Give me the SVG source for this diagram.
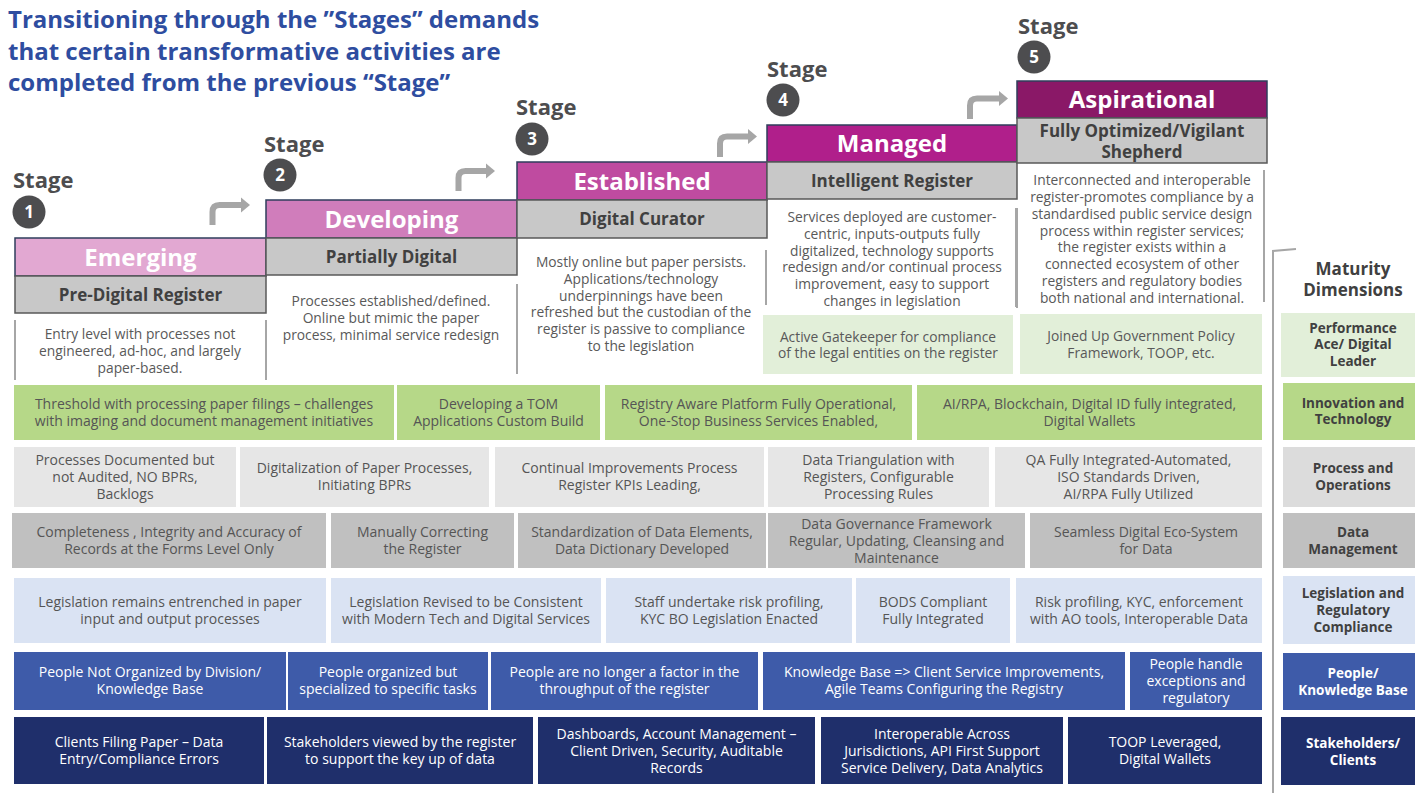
<svg xmlns="http://www.w3.org/2000/svg" width="1415" height="793" viewBox="0 0 1415 793">
<style>
text{font-family:'Open Sans','Noto Sans','DejaVu Sans',sans-serif}
.title{font-size:24px;font-weight:700;fill:#2E4DA0}
.stage{font-size:22px;font-weight:700;fill:#4D4D4F}
.num{font-size:17px;font-weight:700;fill:#fff;text-anchor:middle}
.hd{font-size:24px;font-weight:700;fill:#fff;text-anchor:middle}
.sub{font-size:17px;font-weight:700;fill:#404040;text-anchor:middle}
.desc{font-size:13.8px;fill:#595959;text-anchor:middle}
.cell{font-size:14px;fill:#555;text-anchor:middle}
.w{fill:#fff}
.lab{font-size:13.5px;font-weight:700;fill:#404040;text-anchor:middle}
.labw{font-size:13.5px;font-weight:700;fill:#fff;text-anchor:middle}
.circ{fill:#4D4D4F}
.hbox{stroke:#2F3E5C;stroke-width:1.5}
.gbox{fill:#C8C8C8;stroke:#595959;stroke-width:1.5}
.vl{stroke:#A6A6A6;stroke-width:2;fill:none}
.arr{stroke:#A6A6A6;stroke-width:6;fill:none}
.arrh{fill:#A6A6A6}
.g1{fill:#B6D888}.g0{fill:#E2EFD9}.p{fill:#E6E6E6}.pr{fill:#DCDCDC}.d{fill:#C0C0C0}.l{fill:#DAE3F3}.pe{fill:#3E5BA9}.s{fill:#1F2F6B}
</style>

<g id="title">
<text class="title" x="8" y="28">Transitioning through the ”Stages” demands</text>
<text class="title" x="8" y="60">that certain transformative activities are</text>
<text class="title" x="8" y="91">completed from the previous “Stage”</text>
</g>

<g id="stage1">
<text class="stage" x="13" y="188">Stage</text>
<circle class="circ" cx="29" cy="212" r="16.5"/><text class="num" x="29" y="218">1</text>
<rect class="hbox" x="15" y="238" width="251" height="38" fill="#E2A8D2"/>
<text class="hd" x="140.5" y="265.5">Emerging</text>
<rect class="gbox" x="15" y="276" width="251" height="37"/>
<text class="sub" x="140.5" y="300.5">Pre-Digital Register</text>
<text class="desc"><tspan x="140" y="338.5">Entry level with processes not</tspan><tspan x="140" y="355.5">engineered, ad-hoc, and largely</tspan><tspan x="140" y="372.5">paper-based.</tspan></text>
</g>

<g id="stage2">
<text class="stage" x="264" y="152">Stage</text>
<circle class="circ" cx="280" cy="175" r="16.5"/><text class="num" x="280" y="181">2</text>
<rect class="hbox" x="266" y="200" width="251" height="38" fill="#D07DBB"/>
<text class="hd" x="391.5" y="227.5">Developing</text>
<rect class="gbox" x="266" y="238" width="251" height="37"/>
<text class="sub" x="391.5" y="262.5">Partially Digital</text>
<text class="desc"><tspan x="391" y="305.5">Processes established/defined.</tspan><tspan x="391" y="322.5">Online but mimic the paper</tspan><tspan x="391" y="339.5">process, minimal service redesign</tspan></text>
</g>

<g id="stage3">
<text class="stage" x="516" y="115">Stage</text>
<circle class="circ" cx="532" cy="139" r="16.5"/><text class="num" x="532" y="145">3</text>
<rect class="hbox" x="517" y="162" width="250" height="38" fill="#BF4BA0"/>
<text class="hd" x="642" y="189.5">Established</text>
<rect class="gbox" x="517" y="200" width="250" height="38"/>
<text class="sub" x="642" y="225">Digital Curator</text>
<text class="desc"><tspan x="641" y="266.5">Mostly online but paper persists.</tspan><tspan x="641" y="283.5">Applications/technology</tspan><tspan x="641" y="300.5">underpinnings have been</tspan><tspan x="641" y="317">refreshed but the custodian of the</tspan><tspan x="641" y="333.5">register is passive to compliance</tspan><tspan x="641" y="350.5">to the legislation</tspan></text>
</g>

<g id="stage4">
<text class="stage" x="767" y="77">Stage</text>
<circle class="circ" cx="783" cy="100" r="16.5"/><text class="num" x="783" y="106">4</text>
<rect class="hbox" x="767" y="125" width="250" height="37" fill="#B01F8B"/>
<text class="hd" x="892" y="152">Managed</text>
<rect class="gbox" x="767" y="162" width="250" height="37"/>
<text class="sub" x="892" y="186.5">Intelligent Register</text>
<text class="desc"><tspan x="892" y="221.5">Services deployed are customer-</tspan><tspan x="892" y="238.5">centric, inputs-outputs fully</tspan><tspan x="892" y="255.5">digitalized, technology supports</tspan><tspan x="892" y="271.5">redesign and/or continual process</tspan><tspan x="892" y="288.5">improvement, easy to support</tspan><tspan x="892" y="305.5">changes in legislation</tspan></text>
<rect class="g0" x="763" y="315" width="250" height="59"/>
<text class="desc"><tspan x="888" y="341.5">Active Gatekeeper for compliance</tspan><tspan x="888" y="357.5">of the legal entities on the register</tspan></text>
</g>

<g id="stage5">
<text class="stage" x="1018" y="34">Stage</text>
<circle class="circ" cx="1034" cy="57" r="16.5"/><text class="num" x="1034" y="63">5</text>
<rect class="hbox" x="1017" y="81" width="250" height="37" fill="#8A1867"/>
<text class="hd" x="1142" y="108">Aspirational</text>
<rect class="gbox" x="1017" y="118" width="250" height="45"/>
<text class="sub"><tspan x="1142" y="136.5">Fully Optimized/Vigilant</tspan><tspan x="1142" y="157.5">Shepherd</tspan></text>
<text class="desc"><tspan x="1142" y="184.5">Interconnected and interoperable</tspan><tspan x="1142" y="201.5">register-promotes compliance by a</tspan><tspan x="1142" y="218.5">standardised public service design</tspan><tspan x="1142" y="235.5">process within register services;</tspan><tspan x="1142" y="251.5">the register exists within a</tspan><tspan x="1142" y="268.5">connected ecosystem of other</tspan><tspan x="1142" y="285.5">registers and regulatory bodies</tspan><tspan x="1142" y="302.5">both national and international.</tspan></text>
<rect class="g0" x="1020" y="314" width="242" height="60"/>
<text class="desc"><tspan x="1141" y="340.5">Joined Up Government Policy</tspan><tspan x="1141" y="357.5">Framework, TOOP, etc.</tspan></text>
</g>

<g id="connectors">
<path class="vl" d="M15 320V380M266 320V380M517 284V374M766 250V305M1017 208V308M1016 208V307M1264 170V302"/>
<path class="vl" d="M1296 249L1273 251V793"/>
<path class="arr" d="M212.5 225V212Q212.5 205 219.5 205H243"/><polygon class="arrh" points="241,197.5 250,205 241,212.5"/>
<path class="arr" d="M458.5 191V178Q458.5 171 465.5 171H488"/><polygon class="arrh" points="486,163.5 495,171 486,178.5"/>
<path class="arr" d="M720 157V143.5Q720 136.5 727 136.5H750"/><polygon class="arrh" points="748,129 757,136.5 748,144"/>
<path class="arr" d="M970 119V105.5Q970 98.5 977 98.5H1001"/><polygon class="arrh" points="999,91 1008,98.5 999,106"/>
</g>

<g id="maturity">
<text class="lab" style="font-size:17px"><tspan x="1353" y="275">Maturity</tspan><tspan x="1353" y="296">Dimensions</tspan></text>
<rect class="g0" x="1281" y="313" width="140" height="64"/>
<text class="lab"><tspan x="1353" y="333">Performance</tspan><tspan x="1353" y="349">Ace/ Digital</tspan><tspan x="1353" y="366">Leader</tspan></text>
<rect class="g1" x="1283" y="383" width="140" height="57"/>
<text class="lab"><tspan x="1353" y="408">Innovation and</tspan><tspan x="1353" y="424">Technology</tspan></text>
<rect class="pr" x="1283" y="447" width="140" height="60"/>
<text class="lab"><tspan x="1353" y="473">Process and</tspan><tspan x="1353" y="490">Operations</tspan></text>
<rect class="d" x="1283" y="513" width="140" height="55"/>
<text class="lab"><tspan x="1353" y="537">Data</tspan><tspan x="1353" y="554">Management</tspan></text>
<rect class="l" x="1283" y="576" width="140" height="68"/>
<text class="lab"><tspan x="1353" y="598">Legislation and</tspan><tspan x="1353" y="615">Regulatory</tspan><tspan x="1353" y="632">Compliance</tspan></text>
<rect class="pe" x="1283" y="653" width="140" height="57"/>
<text class="labw"><tspan x="1353" y="678">People/</tspan><tspan x="1353" y="695">Knowledge Base</tspan></text>
<rect class="s" x="1281" y="717" width="140" height="68"/>
<text class="labw"><tspan x="1353" y="748">Stakeholders/</tspan><tspan x="1353" y="765">Clients</tspan></text>
</g>

<g id="row-innovation">
<rect class="g1" x="14" y="385" width="380" height="55"/>
<text class="cell"><tspan x="204" y="409">Threshold with processing paper filings – challenges</tspan><tspan x="204" y="426">with imaging and document management initiatives</tspan></text>
<rect class="g1" x="397" y="385" width="203" height="55"/>
<text class="cell"><tspan x="498.5" y="409">Developing a TOM</tspan><tspan x="498.5" y="426">Applications Custom Build</tspan></text>
<rect class="g1" x="605" y="385" width="307" height="55"/>
<text class="cell"><tspan x="758.5" y="409">Registry Aware Platform Fully Operational,</tspan><tspan x="758.5" y="426">One-Stop Business Services Enabled,</tspan></text>
<rect class="g1" x="917" y="385" width="345" height="55"/>
<text class="cell"><tspan x="1089.5" y="409">AI/RPA, Blockchain, Digital ID fully integrated,</tspan><tspan x="1089.5" y="426">Digital Wallets</tspan></text>
</g>

<g id="row-process">
<rect class="p" x="14" y="447" width="222" height="60"/>
<text class="cell"><tspan x="125" y="465">Processes Documented but</tspan><tspan x="125" y="482">not Audited, NO BPRs,</tspan><tspan x="125" y="499">Backlogs</tspan></text>
<rect class="p" x="240" y="447" width="249" height="60"/>
<text class="cell"><tspan x="364.5" y="473">Digitalization of Paper Processes,</tspan><tspan x="364.5" y="490">Initiating BPRs</tspan></text>
<rect class="p" x="495" y="447" width="269" height="60"/>
<text class="cell"><tspan x="629.5" y="473">Continual Improvements Process</tspan><tspan x="629.5" y="490">Register KPIs Leading,</tspan></text>
<rect class="p" x="768" y="447" width="221" height="60"/>
<text class="cell"><tspan x="878.5" y="465">Data Triangulation with</tspan><tspan x="878.5" y="482">Registers, Configurable</tspan><tspan x="878.5" y="499">Processing Rules</tspan></text>
<rect class="p" x="995" y="447" width="267" height="60"/>
<text class="cell"><tspan x="1128.5" y="465">QA Fully Integrated-Automated,</tspan><tspan x="1128.5" y="482">ISO Standards Driven,</tspan><tspan x="1128.5" y="499">AI/RPA Fully Utilized</tspan></text>
</g>

<g id="row-data">
<rect class="d" x="12" y="513" width="314" height="55"/>
<text class="cell"><tspan x="169" y="537">Completeness , Integrity and Accuracy of</tspan><tspan x="169" y="554">Records at the Forms Level Only</tspan></text>
<rect class="d" x="331" y="513" width="183" height="55"/>
<text class="cell"><tspan x="422.5" y="537">Manually Correcting</tspan><tspan x="422.5" y="554">the Register</tspan></text>
<rect class="d" x="518" y="513" width="248" height="55"/>
<text class="cell"><tspan x="642" y="537">Standardization of Data Elements,</tspan><tspan x="642" y="554">Data Dictionary Developed</tspan></text>
<rect class="d" x="768" y="513" width="257" height="55"/>
<text class="cell"><tspan x="896.5" y="529">Data Governance Framework</tspan><tspan x="896.5" y="546">Regular, Updating, Cleansing and</tspan><tspan x="896.5" y="563">Maintenance</tspan></text>
<rect class="d" x="1030" y="513" width="232" height="55"/>
<text class="cell"><tspan x="1146" y="537">Seamless Digital Eco-System</tspan><tspan x="1146" y="554">for Data</tspan></text>
</g>

<g id="row-legislation">
<rect class="l" x="14" y="578" width="312" height="65"/>
<text class="cell"><tspan x="170" y="607">Legislation remains entrenched in paper</tspan><tspan x="170" y="624">input and output processes</tspan></text>
<rect class="l" x="331" y="578" width="270" height="65"/>
<text class="cell"><tspan x="466" y="607">Legislation Revised to be Consistent</tspan><tspan x="466" y="624">with Modern Tech and Digital Services</tspan></text>
<rect class="l" x="606" y="578" width="246" height="65"/>
<text class="cell"><tspan x="729" y="607">Staff undertake risk profiling,</tspan><tspan x="729" y="624">KYC BO Legislation Enacted</tspan></text>
<rect class="l" x="856" y="578" width="154" height="65"/>
<text class="cell"><tspan x="933" y="607">BODS Compliant</tspan><tspan x="933" y="624">Fully Integrated</tspan></text>
<rect class="l" x="1016" y="578" width="246" height="65"/>
<text class="cell"><tspan x="1139" y="607">Risk profiling, KYC, enforcement</tspan><tspan x="1139" y="624">with AO tools, Interoperable Data</tspan></text>
</g>

<g id="row-people">
<rect class="pe" x="14" y="652" width="272" height="58"/>
<text class="cell w"><tspan x="150" y="677">People Not Organized by Division/</tspan><tspan x="150" y="694">Knowledge Base</tspan></text>
<rect class="pe" x="288" y="652" width="200" height="58"/>
<text class="cell w"><tspan x="388" y="677">People organized but</tspan><tspan x="388" y="694">specialized to specific tasks</tspan></text>
<rect class="pe" x="491" y="652" width="267" height="58"/>
<text class="cell w"><tspan x="624.5" y="677">People are no longer a factor in the</tspan><tspan x="624.5" y="694">throughput of the register</tspan></text>
<rect class="pe" x="763" y="652" width="362" height="58"/>
<text class="cell w"><tspan x="944" y="677">Knowledge Base =&gt; Client Service Improvements,</tspan><tspan x="944" y="694">Agile Teams Configuring the Registry</tspan></text>
<rect class="pe" x="1130" y="652" width="132" height="58"/>
<text class="cell w"><tspan x="1196" y="669">People handle</tspan><tspan x="1196" y="686">exceptions and</tspan><tspan x="1196" y="703">regulatory</tspan></text>
</g>

<g id="row-stakeholders">
<rect class="s" x="14" y="717" width="250" height="67"/>
<text class="cell w"><tspan x="139" y="747">Clients Filing Paper – Data</tspan><tspan x="139" y="764">Entry/Compliance Errors</tspan></text>
<rect class="s" x="267" y="717" width="266" height="67"/>
<text class="cell w"><tspan x="400" y="747">Stakeholders viewed by the register</tspan><tspan x="400" y="764">to support the key up of data</tspan></text>
<rect class="s" x="538" y="717" width="277" height="67"/>
<text class="cell w"><tspan x="676.5" y="739">Dashboards, Account Management –</tspan><tspan x="676.5" y="756">Client Driven, Security, Auditable</tspan><tspan x="676.5" y="773">Records</tspan></text>
<rect class="s" x="821" y="717" width="242" height="67"/>
<text class="cell w"><tspan x="942" y="739">Interoperable Across</tspan><tspan x="942" y="756">Jurisdictions, API First Support</tspan><tspan x="942" y="773">Service Delivery, Data Analytics</tspan></text>
<rect class="s" x="1068" y="717" width="194" height="67"/>
<text class="cell w"><tspan x="1165" y="747">TOOP Leveraged,</tspan><tspan x="1165" y="764">Digital Wallets</tspan></text>
</g>
</svg>
